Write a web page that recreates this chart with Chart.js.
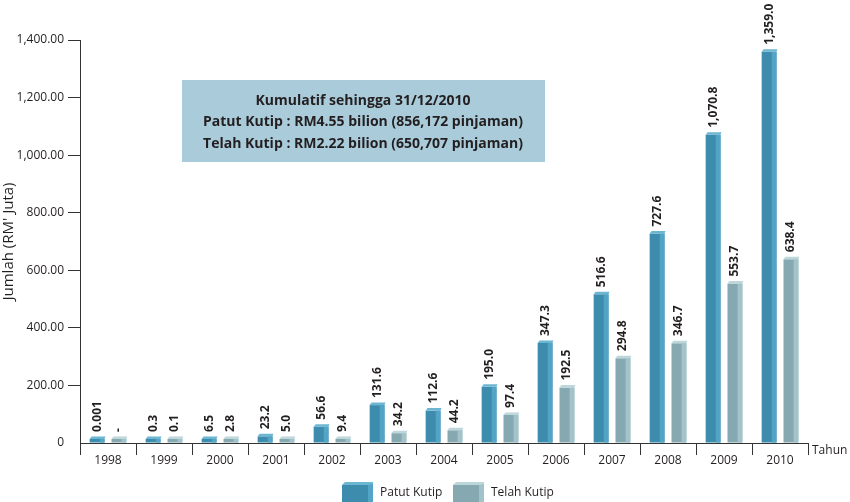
<!DOCTYPE html>
<html>
<head>
<meta charset="utf-8">
<script src="https://cdn.jsdelivr.net/npm/chart.js@4.4.0/dist/chart.umd.min.js"></script>
<style>
  html, body { margin: 0; padding: 0; background: #fff; }
  #wrap { width: 850px; height: 502px; }
</style>
</head>
<body>
<div id="wrap"><canvas id="myChart" width="850" height="502"></canvas></div>
<script>
// data
var years = ['1998','1999','2000','2001','2002','2003','2004','2005','2006','2007','2008','2009','2010'];
var patutKutip = [0.001, 0.3, 6.5, 23.2, 56.6, 131.6, 112.6, 195.0, 347.3, 516.6, 727.6, 1070.8, 1359.0];
var telahKutip = [0, 0.1, 2.8, 5.0, 9.4, 34.2, 44.2, 97.4, 192.5, 294.8, 346.7, 553.7, 638.4];
var yTicks = [0, 200, 400, 600, 800, 1000, 1200, 1400];
var noteLines = ['Kumulatif sehingga 31/12/2010',
  'Patut Kutip : RM4.55 bilion (856,172 pinjaman)',
  'Telah Kutip : RM2.22 bilion (650,707 pinjaman)'];

var FONT = '"Open Sans", "Liberation Sans", sans-serif';
var TXT = '#231f20';

function fmtVal(v){
  if(v === 0) return '-';
  if(v < 0.01) return String(v);
  return v.toLocaleString('en-US',{minimumFractionDigits:1, maximumFractionDigits:1});
}

// 3d-ish bars, value labels, note box, legend, "Tahun"
var extras = {
  id:'extras',
  beforeDatasetsDraw:function(chart){
    var c = chart.ctx;
    c.save();
    c.fillStyle = '#aacbda';
    c.fillRect(182, 80, 363, 82);
    c.fillStyle = TXT;
    c.font = 'bold 14px ' + FONT;
    c.textAlign = 'center';
    c.textBaseline = 'middle';
    noteLines.forEach(function(t,i){ c.fillText(t, 363, 101 + i*21.5); });
    c.restore();
  },
  afterDatasetsDraw:function(chart){
    var c = chart.ctx;
    chart.data.datasets.forEach(function(ds, i){
      var meta = chart.getDatasetMeta(i);
      meta.data.forEach(function(bar, j){
        var p = bar.getProps(['x','y','base','width'], true);
        var l = p.x - p.width/2, r = p.x + p.width/2;
        var side = p.width*0.32;
        c.save();
        c.fillStyle = ds.sideColor;
        c.fillRect(r - side, p.y, side, p.base - p.y);
        c.fillStyle = ds.topColor;
        c.beginPath();
        c.moveTo(l, p.y);
        c.lineTo(l + 2, p.y - 2.5);
        c.lineTo(r + 1, p.y - 2.5);
        c.lineTo(r, p.y);
        c.closePath();
        c.fill();
        // value label
        c.translate(p.x, p.y - 7);
        c.rotate(-Math.PI/2);
        c.fillStyle = TXT;
        c.font = 'bold 12px ' + FONT;
        c.textAlign = 'left';
        c.textBaseline = 'middle';
        c.fillText(fmtVal(ds.data[j]), 0, 0);
        c.restore();
      });
    });
  },
  afterDraw:function(chart){
    var c = chart.ctx;
    var area = chart.chartArea;
    c.save();
    c.fillStyle = TXT;
    c.font = '12px ' + FONT;
    c.textAlign = 'left';
    c.textBaseline = 'middle';
    c.fillText('Tahun', area.right + 4, area.bottom + 8);
    // legend
    var lx = [342, 453];
    chart.data.datasets.forEach(function(ds, i){
      var x = lx[i], y = 485;
      c.fillStyle = ds.backgroundColor;
      c.fillRect(x, y, 26, 17);
      c.fillStyle = ds.sideColor;
      c.fillRect(x + 26, y - 1, 5, 18);
      c.fillStyle = ds.topColor;
      c.beginPath();
      c.moveTo(x, y); c.lineTo(x + 3, y - 3); c.lineTo(x + 31, y - 3); c.lineTo(x + 31, y - 1); c.lineTo(x + 26, y);
      c.closePath(); c.fill();
      c.fillStyle = TXT;
      c.fillText(ds.label, x + 38, 493);
    });
    c.restore();
  }
};

var ctx = document.getElementById('myChart').getContext('2d');
var myChart = new Chart(ctx, {
  type:'bar',
  data:{
    labels:years,
    datasets:[{
      label:'Patut Kutip',
      data:patutKutip,
      backgroundColor:'#3d8cae',
      sideColor:'#52a5c6',
      topColor:'#6cb6d2',
      minBarLength:4
    },{
      label:'Telah Kutip',
      data:telahKutip,
      backgroundColor:'#86a9b1',
      sideColor:'#a2c3c9',
      topColor:'#bdd6da',
      minBarLength:4
    }]
  },
  options:{
    responsive:false,
    animation:false,
    layout:{ padding:{ top:40, right:42, bottom:24, left:0 } },
    datasets:{ bar:{ categoryPercentage:0.78, barPercentage:0.68 } },
    plugins:{ legend:{ display:false }, tooltip:{ enabled:false } },
    scales:{
      x:{
        offset:true,
        afterFit:function(s){ s.height = 35; },
        border:{ display:true, color:'#333', width:1 },
        grid:{ display:true, offset:true, drawOnChartArea:false, drawTicks:true, tickLength:12, color:'#333' },
        ticks:{ color:TXT, font:{ family:FONT, size:12 }, padding:-2 }
      },
      y:{
        min:0, max:1400,
        afterFit:function(s){ s.width = 80; },
        afterBuildTicks:function(s){ s.ticks = yTicks.map(function(v){ return {value:v}; }); },
        border:{ display:true, color:'#333', width:1 },
        grid:{ display:true, drawOnChartArea:false, tickLength:12,
          tickColor:function(c){ return c.tick && c.tick.value === 0 ? 'rgba(0,0,0,0)' : '#333'; } },
        ticks:{ color:TXT, font:{ family:FONT, size:12 }, padding:4,
          callback:function(v){ return v === 0 ? '0' : v.toLocaleString('en-US',{minimumFractionDigits:2, maximumFractionDigits:2}); } },
        title:{ display:true, text:"Jumlah (RM' Juta)", color:TXT, font:{ family:FONT, size:15 }, padding:0 }
      }
    }
  },
  plugins:[extras]
});
</script>
</body>
</html>
